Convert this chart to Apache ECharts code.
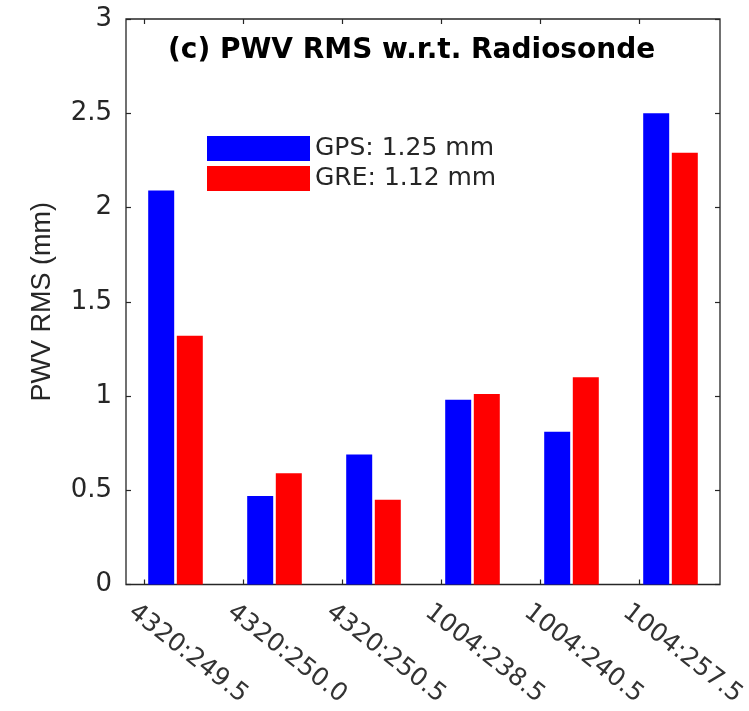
<!DOCTYPE html>
<html>
<head>
<meta charset="utf-8">
<script src="https://cdn.jsdelivr.net/npm/echarts@6.0.0/dist/echarts.min.js"></script>
<style>
html,body{margin:0;padding:0;background:#fff;}
#chart{width:749px;height:711px;}
</style>
</head>
<body>
<div id="chart"></div>
<script>
const categories = ['4320:249.5','4320:250.0','4320:250.5','1004:238.5','1004:240.5','1004:257.5'];
const gpsValues = [2.09, 0.47, 0.69, 0.98, 0.81, 2.50];
const greValues = [1.32, 0.59, 0.45, 1.01, 1.10, 2.29];
const seriesNames = ['GPS: 1.25 mm', 'GRE: 1.12 mm'];
const yTicks = { min: 0, max: 3, interval: 0.5 };
const titleText = '(c) PWV RMS w.r.t. Radiosonde';
const yName = 'PWV RMS (mm)';

const axisColor = '#262626';
const chart = echarts.init(document.getElementById('chart'), null, {renderer: 'canvas'});

const plotLeft = 126, plotRight = 29, plotTop = 19, plotBottom = 126.5;
const tickShift = 31.7, labelShift = 44;

const option = {
  animation: false,
  backgroundColor: '#fff',
  title: {
    text: titleText,
    left: 168, top: 37, padding: 0,
    textStyle: { fontFamily: 'DejaVu Sans', fontWeight: 'bold', fontSize: 28, color: '#000' }
  },
  legend: {
    orient: 'vertical',
    left: 207, top: 136, padding: 0,
    itemWidth: 103, itemHeight: 25, itemGap: 5,
    icon: 'rect',
    data: seriesNames,
    textStyle: { fontFamily: 'DejaVu Sans', fontSize: 25, color: axisColor }
  },
  grid: [
    { left: plotLeft, right: plotRight, top: plotTop, bottom: plotBottom, show: true,
      borderColor: axisColor, borderWidth: 1.3, backgroundColor: 'transparent' },
    { left: plotLeft - tickShift, right: plotRight + tickShift, top: plotTop, bottom: plotBottom },
    { left: plotLeft - labelShift, right: plotRight + labelShift, top: plotTop, bottom: plotBottom }
  ],
  xAxis: [
    { type: 'category', gridIndex: 0, data: categories,
      axisLine: { show: false }, axisTick: { show: false }, axisLabel: { show: false } },
    { type: 'category', gridIndex: 1, data: categories, position: 'bottom',
      axisLine: { show: false },
      axisTick: { show: true, inside: true, alignWithLabel: true, length: 5, lineStyle: { color: axisColor, width: 1.2 } },
      axisLabel: { show: false } },
    { type: 'category', gridIndex: 1, data: categories, position: 'top',
      axisLine: { show: false },
      axisTick: { show: true, inside: true, alignWithLabel: true, length: 5, lineStyle: { color: axisColor, width: 1.2 } },
      axisLabel: { show: false } },
    { type: 'category', gridIndex: 2, data: categories, position: 'bottom',
      axisLine: { show: false }, axisTick: { show: false },
      axisLabel: { show: true, interval: 0, rotate: -38, margin: 25,
        fontFamily: 'DejaVu Sans', fontSize: 25, color: '#333' } }
  ],
  yAxis: [
    { type: 'value', gridIndex: 0, position: 'left', min: yTicks.min, max: yTicks.max, interval: yTicks.interval,
      name: yName, nameLocation: 'middle', nameGap: 70,
      nameTextStyle: { fontFamily: 'Liberation Sans', fontSize: 27, color: axisColor },
      axisLine: { show: false },
      axisTick: { show: true, inside: true, length: 5, lineStyle: { color: axisColor, width: 1.2 } },
      splitLine: { show: false },
      axisLabel: { margin: 14, fontFamily: 'DejaVu Sans', fontSize: 26, color: axisColor } },
    { type: 'value', gridIndex: 0, position: 'right', min: yTicks.min, max: yTicks.max, interval: yTicks.interval,
      axisLine: { show: false },
      axisTick: { show: true, inside: true, length: 5, lineStyle: { color: axisColor, width: 1.2 } },
      splitLine: { show: false }, axisLabel: { show: false } },
    { type: 'value', gridIndex: 1, show: false, min: 0, max: 1 },
    { type: 'value', gridIndex: 2, show: false, min: 0, max: 1 }
  ],
  series: [
    { name: seriesNames[0], type: 'bar', xAxisIndex: 0, yAxisIndex: 0, data: gpsValues,
      barWidth: 26, barGap: '10%', itemStyle: { color: '#0000ff' } },
    { name: seriesNames[1], type: 'bar', xAxisIndex: 0, yAxisIndex: 0, data: greValues,
      barWidth: 26, barGap: '10%', itemStyle: { color: '#ff0000' } }
  ]
};
chart.setOption(option);
</script>
</body>
</html>
